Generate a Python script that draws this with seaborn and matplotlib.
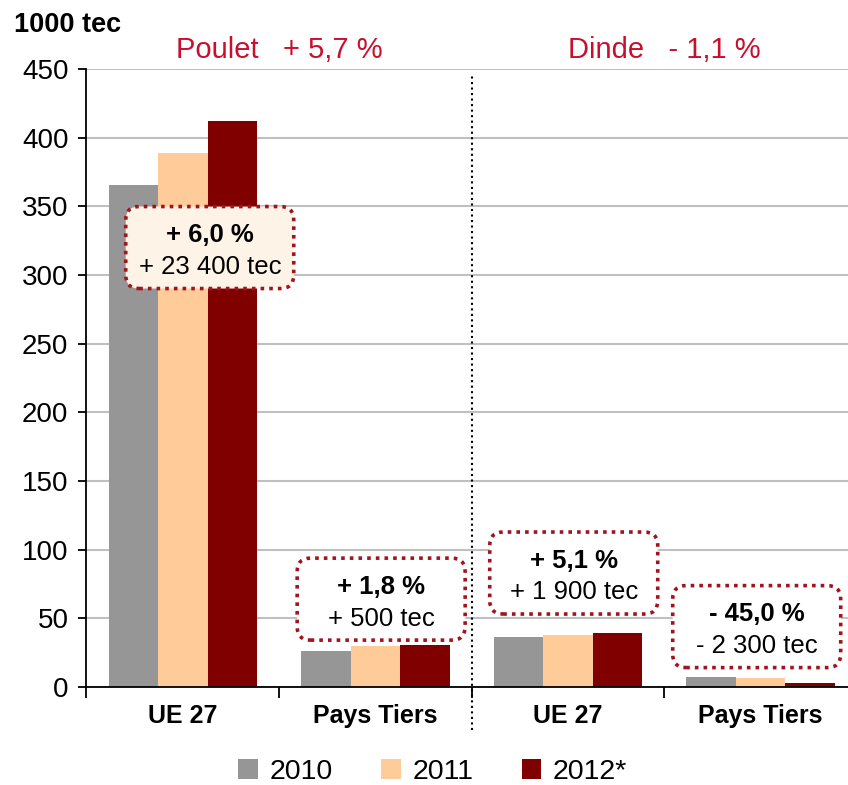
import matplotlib
matplotlib.use("Agg")
import numpy as np
import pandas as pd
import matplotlib.pyplot as plt
from matplotlib.patches import FancyBboxPatch
import seaborn as sns

sns.set_style("white")
plt.rcParams['font.family'] = ['Liberation Sans', 'DejaVu Sans']
plt.rcParams['text.color'] = 'black'
plt.rcParams['xtick.color'] = 'black'
plt.rcParams['ytick.color'] = 'black'

# data (1000 tec)
groups = ["Poulet", "Poulet", "Dinde", "Dinde"]
categories = ["UE 27", "Pays Tiers", "UE 27", "Pays Tiers"]
years = ["2010", "2011", "2012*"]
v2010 = [365.5, 26.2, 36.4, 7.3]
v2011 = [389.0, 29.9, 38.0, 6.6]
v2012 = [412.0, 30.6, 39.3, 2.9]
group_titles = ["Poulet   + 5,7 %", "Dinde   - 1,1 %"]
box_pct = ["+ 6,0 %", "+ 1,8 %", "+ 5,1 %", "- 45,0 %"]
box_tec = ["+ 23 400 tec", "+ 500 tec", "+ 1 900 tec", "- 2 300 tec"]

colors = ["#969696", "#FFCC99", "#800000"]
red_title = "#C8102E"
box_edge = "#A0141E"
box_faces = ["#FDF3E7", "white", "white", "white"]
# box placement (layout)
box_dx = [0.14, 0.03, 0.03, -0.02]
box_y = [320, 64, 83, 44]

slots = [g + " " + c for g, c in zip(groups, categories)]
rows = []
for yr, vals in zip(years, [v2010, v2011, v2012]):
    for s, v in zip(slots, vals):
        rows.append({"slot": s, "year": yr, "value": v})
df = pd.DataFrame(rows)

fig = plt.figure(figsize=(8.48, 7.85), dpi=100)
ax = fig.add_axes([0.102, 0.1248, 0.898, 0.7873])

sns.barplot(data=df, x="slot", y="value", hue="year", order=slots,
            hue_order=years, palette=colors, width=0.77, gap=0,
            saturation=1, linewidth=0, edgecolor="none", ax=ax)
handles, labels = ax.get_legend_handles_labels()
ax.get_legend().remove()

ax.set_xlim(-0.5, 3.454)
ax.set_ylim(0, 450)
ax.set_yticks(range(0, 451, 50))
ax.yaxis.grid(True, color="#C0C0C0", lw=1.5)
ax.set_axisbelow(True)
ax.set_xlabel("")
ax.set_ylabel("")

for side in ["top", "right"]:
    ax.spines[side].set_visible(False)
for side in ["left", "bottom"]:
    ax.spines[side].set_color("black")
    ax.spines[side].set_linewidth(1.3)

ax.tick_params(axis="y", which="major", left=True, direction="out",
               length=6, width=1.3, labelsize=20, pad=7)
ax.set_xticks([-0.5, 0.5, 1.5, 2.5])
ax.set_xticklabels([])
ax.set_xticks(range(4), minor=True)
ax.set_xticklabels(categories, minor=True, fontsize=18, fontweight="bold")
ax.tick_params(axis="x", which="major", bottom=True, direction="out",
               length=8, width=1.3)
ax.tick_params(axis="x", which="minor", bottom=False, length=0, pad=12)

ax.axvline(1.5, ymin=-0.07, ymax=0.99, color="black", ls=":", lw=1.5,
           clip_on=False)

trans = ax.get_xaxis_transform()
for xg, t in zip([0.5, 2.5], group_titles):
    ax.text(xg, 1.031, t, transform=trans, ha="center", va="center",
            fontsize=21, color=red_title)

fig.text(14 / 848, 1 - 25 / 785, "1000 tec", ha="left", va="center",
         fontsize=19.5, fontweight="bold")

# pixel size of one data unit, to size the boxes in pixels
p0 = ax.transData.transform((0, 0))
p1 = ax.transData.transform((1, 1))
px_x, px_y = p1[0] - p0[0], p1[1] - p0[1]
bw, bh = 168 / px_x, 82 / px_y

for i in range(4):
    cx, cy = i + box_dx[i], box_y[i]
    ax.add_patch(FancyBboxPatch((cx - bw / 2, cy - bh / 2), bw, bh,
                                boxstyle="round,pad=0,rounding_size=0.07",
                                mutation_aspect=px_x / px_y,
                                fc=box_faces[i], ec=box_edge,
                                ls=(0, (1, 1.4)), lw=2.6, zorder=5))
    ax.annotate(box_pct[i], xy=(cx, cy), xytext=(0, 9),
                textcoords="offset points", ha="center", va="center",
                fontsize=18.5, fontweight="bold", zorder=6)
    ax.annotate(box_tec[i], xy=(cx, cy), xytext=(0, -14),
                textcoords="offset points", ha="center", va="center",
                fontsize=18.5, zorder=6)

fig.legend(handles, labels, loc="center", bbox_to_anchor=(0.51, 0.017),
           ncol=3, frameon=False, fontsize=20.5, handlelength=0.7,
           handleheight=0.7, columnspacing=1.7, handletextpad=0.4)

fig.savefig("out.png", dpi=100)
